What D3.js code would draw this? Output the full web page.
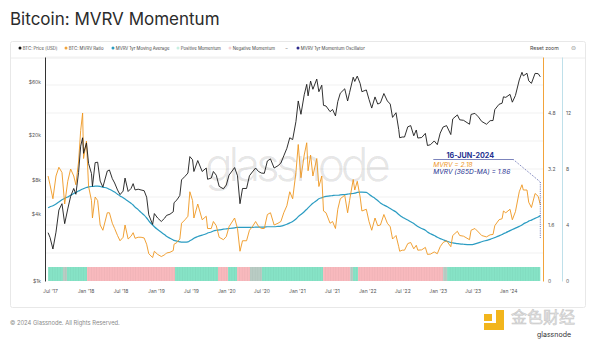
<!DOCTYPE html>
<html><head><meta charset="utf-8">
<script src="https://cdn.jsdelivr.net/npm/d3@7"></script>
<style>
body{margin:0;background:#fff;}
svg{display:block;font-family:Inter,"Noto Sans",sans-serif;}
</style>
</head><body>
<svg id="c" width="600" height="341"></svg>
<script>
// ---------- DATA ----------
const dates = [
 "2017-06-21","2017-07-01","2017-07-16","2017-08-01","2017-08-16","2017-09-01","2017-09-15","2017-10-01","2017-10-16","2017-11-01","2017-11-12","2017-11-26","2017-12-07","2017-12-17","2017-12-22",
 "2018-01-06","2018-01-17","2018-02-01","2018-02-06","2018-02-20","2018-03-05","2018-03-18","2018-04-01","2018-04-24","2018-05-05","2018-05-20","2018-06-01","2018-06-16","2018-06-29","2018-07-15","2018-07-25","2018-08-10","2018-08-25","2018-09-05","2018-09-15","2018-10-01","2018-10-16","2018-11-01","2018-11-14","2018-11-25","2018-12-15","2018-12-24",
 "2019-01-10","2019-01-29","2019-02-16","2019-02-25","2019-03-15","2019-04-01","2019-04-05","2019-04-20","2019-05-05","2019-05-14","2019-06-01","2019-06-16","2019-06-26","2019-07-10","2019-07-17","2019-08-06","2019-08-29","2019-09-19","2019-09-26","2019-10-15","2019-10-26","2019-11-10","2019-11-25","2019-12-17",
 "2020-01-01","2020-01-15","2020-02-13","2020-02-28","2020-03-12","2020-03-25","2020-04-15","2020-04-30","2020-05-15","2020-06-01","2020-06-16","2020-07-01","2020-07-16","2020-08-01","2020-08-17","2020-09-05","2020-09-25","2020-10-10","2020-10-25","2020-11-10","2020-11-25","2020-12-10","2020-12-27",
 "2021-01-08","2021-01-22","2021-02-08","2021-02-21","2021-02-28","2021-03-13","2021-03-25","2021-04-14","2021-04-25","2021-05-10","2021-05-19","2021-06-01","2021-06-22","2021-07-05","2021-07-20","2021-08-01","2021-08-14","2021-09-06","2021-09-21","2021-10-01","2021-10-20","2021-10-28","2021-11-10","2021-11-25","2021-12-04","2021-12-27",
 "2022-01-10","2022-01-24","2022-02-10","2022-02-24","2022-03-10","2022-03-28","2022-04-15","2022-04-30","2022-05-12","2022-05-30","2022-06-13","2022-06-18","2022-07-01","2022-07-13","2022-07-30","2022-08-14","2022-08-30","2022-09-12","2022-09-20","2022-10-10","2022-10-29","2022-11-09","2022-11-25","2022-12-14","2022-12-30",
 "2023-01-14","2023-01-29","2023-02-16","2023-03-10","2023-03-20","2023-04-13","2023-04-25","2023-05-15","2023-06-15","2023-06-23","2023-07-13","2023-07-31","2023-08-17","2023-09-11","2023-09-30","2023-10-15","2023-10-24","2023-11-15","2023-12-01","2023-12-08","2023-12-20",
 "2024-01-11","2024-01-23","2024-02-08","2024-02-28","2024-03-13","2024-03-20","2024-04-08","2024-04-17","2024-05-01","2024-05-20","2024-06-05","2024-06-16"
];
const price = [
 2700,2450,1930,2730,4300,4900,3250,4400,5700,6700,5950,9300,16000,19000,13800,
 17100,11200,9100,7000,11400,11500,7800,6900,9600,9800,8200,7500,6500,5900,6350,8300,6300,6700,7400,6500,6600,6500,6400,5600,3900,3200,4000,
 3650,3400,3650,3850,3950,4150,5000,5300,5800,8000,8600,9200,12900,12100,9500,11900,9500,10200,8100,8300,9500,8800,7000,6650,
 7200,8800,10300,8700,4900,6700,6700,8700,9400,10200,9500,9200,9150,11800,12300,10200,10700,11300,13100,15300,19000,18300,26500,
 40500,30800,46000,57000,45000,61000,51500,63500,49000,56000,37000,36500,32500,34000,29800,40000,47500,52000,40500,48000,66000,60500,67500,58000,49000,50800,
 41800,35000,44000,38000,39000,47200,40500,38000,28900,31800,22500,19000,19300,19300,23800,24400,19800,22300,18900,19100,20800,16200,16500,17800,16500,
 20900,23700,24400,20300,28000,30400,27500,27200,25100,30700,31400,29200,26600,25100,27000,27100,33900,37800,38700,44100,43600,
 46400,39500,45300,62400,73000,67800,71600,61300,58200,71400,71000,66600
];
const mvrv = [
 3.0,2.75,2.35,3.0,3.25,3.1,2.2,2.85,3.2,3.0,2.75,3.4,4.3,4.8,3.5,
 4.0,2.7,2.3,1.8,2.4,2.3,1.6,1.45,1.95,1.95,1.65,1.5,1.3,1.15,1.25,1.6,1.2,1.28,1.38,1.22,1.25,1.25,1.23,1.05,0.78,0.67,0.85,
 0.76,0.7,0.75,0.8,0.82,0.87,1.05,1.1,1.2,1.65,1.75,1.85,2.55,2.3,1.8,2.2,1.75,1.85,1.5,1.5,1.7,1.58,1.25,1.18,
 1.27,1.55,1.8,1.5,0.85,1.15,1.15,1.45,1.55,1.7,1.56,1.5,1.5,1.9,1.95,1.6,1.65,1.7,1.95,2.15,2.55,2.35,3.1,
 3.9,2.95,3.6,3.95,3.15,3.6,3.0,3.5,2.7,3.0,2.0,1.95,1.65,1.7,1.5,2.05,2.35,2.45,1.95,2.3,2.9,2.6,2.85,2.4,2.0,2.05,
 1.7,1.45,1.8,1.58,1.6,1.9,1.65,1.55,1.2,1.3,0.98,0.85,0.88,0.88,1.07,1.1,0.92,1.02,0.88,0.89,0.96,0.76,0.77,0.83,0.78,
 0.98,1.1,1.15,0.98,1.3,1.42,1.3,1.28,1.18,1.45,1.5,1.4,1.3,1.26,1.32,1.33,1.58,1.75,1.78,2.0,1.95,
 2.05,1.75,1.98,2.55,2.75,2.6,2.6,2.25,2.1,2.5,2.42,2.18
];
const mvrvMA = [
 2.09,2.12,2.15,2.2,2.26,2.32,2.36,2.4,2.45,2.5,2.53,2.57,2.6,2.63,2.64,
 2.67,2.69,2.7,2.7,2.71,2.71,2.7,2.68,2.65,2.62,2.58,2.54,2.48,2.43,2.38,2.34,2.28,2.22,2.17,2.11,2.04,1.96,1.88,1.8,1.72,1.6,1.55,
 1.47,1.39,1.32,1.28,1.22,1.17,1.16,1.14,1.12,1.11,1.11,1.12,1.15,1.19,1.22,1.27,1.31,1.35,1.37,1.4,1.43,1.45,1.46,1.48,
 1.49,1.5,1.52,1.53,1.53,1.53,1.53,1.53,1.53,1.54,1.54,1.54,1.54,1.55,1.55,1.55,1.56,1.57,1.59,1.62,1.66,1.7,1.77,
 1.84,1.9,1.98,2.05,2.09,2.16,2.22,2.3,2.35,2.38,2.4,2.42,2.43,2.44,2.45,2.45,2.46,2.47,2.48,2.49,2.5,2.51,2.53,2.54,2.54,2.53,
 2.48,2.42,2.36,2.3,2.23,2.17,2.12,2.07,2.03,1.97,1.9,1.88,1.83,1.79,1.74,1.69,1.64,1.59,1.56,1.5,1.45,1.4,1.35,1.3,1.25,
 1.21,1.18,1.14,1.1,1.09,1.07,1.06,1.05,1.04,1.04,1.06,1.09,1.12,1.16,1.19,1.22,1.24,1.29,1.33,1.35,1.38,
 1.44,1.47,1.51,1.56,1.6,1.63,1.68,1.71,1.74,1.79,1.83,1.86
];
// momentum periods (start, end, state)
const momentumStart = ["2017-06-21","2017-09-06","2017-09-27","2018-01-09","2019-04-10","2019-11-19","2020-01-10","2020-02-26","2020-05-03","2020-07-04","2021-05-17","2021-10-04","2021-10-19","2021-11-14","2023-01-29","2023-02-19"];
const momentumEnd   = ["2017-09-06","2017-09-27","2018-01-09","2019-04-10","2019-11-19","2020-01-10","2020-02-26","2020-05-03","2020-07-04","2021-05-17","2021-10-04","2021-10-19","2021-11-14","2023-01-29","2023-02-19","2024-06-16"];
const momentumState = ["pos","neutral","pos","neg","pos","neg","pos","neg","neutral","pos","neg","neutral","pos","neg","neutral","pos"];
const momentumLevel = 1;   // band height on oscillator axis

const priceTicks = [1000,4000,8000,20000,60000];
const mvrvTicks = [0,1.6,3.2,4.8];
const oscTicks = [0,4,8,12];
const legendLabels = ["BTC: Price [USD]","BTC: MVRV Ratio","MVRV 1yr Moving Average","Positive Momentum","Negative Momentum","","MVRV 1yr Momentum Oscillator"];
const legendColors = ["#111","#f2a33a","#2b9cc2","#c8efe2","#f7d3d5",null,"#2d2a8c"];
const annotDate = "16-JUN-2024";
const annotMVRV = 2.18, annotMA = 1.86;

// ---------- SETUP ----------
const parse = d3.timeParse("%Y-%m-%d");
const D = dates.map(parse);
const svg = d3.select("#c");
const L=45, R=543, T=57, B=281;
const x = d3.scaleTime().domain([new Date(2017,5,5), new Date(2024,5,30)]).range([L,R]);
const yP = d3.scaleLog().domain([1000,100000]).range([B,T]);
const yM = d3.scaleLinear().domain([0,6.4]).range([B,T]);
const yO = d3.scaleLinear().domain([0,16]).range([B,T]);

// stripe texture for momentum columns
const defs = svg.append("defs");
const pat = defs.append("pattern").attr("id","stripes").attr("patternUnits","userSpaceOnUse").attr("width",2.6).attr("height",10);
pat.append("rect").attr("x",0).attr("y",0).attr("width",0.45).attr("height",10).attr("fill","#000").attr("fill-opacity",0.06);

// title & card
svg.append("text").attr("x",10).attr("y",25).attr("font-size",17).attr("fill","#2b2b2b").text("Bitcoin: MVRV Momentum");
svg.append("rect").attr("x",10.5).attr("y",41.5).attr("width",575).attr("height",266).attr("rx",2)
  .attr("fill","#fff").attr("stroke","#e8e8e8");
svg.append("line").attr("x1",11).attr("x2",585).attr("y1",58).attr("y2",58).attr("stroke","#ececec");

// legend
const legX = [20,66,113,178,230,287,298];
const lg = svg.append("g").attr("font-size",4.3).attr("fill","#444");
legendLabels.forEach((t,i)=>{
  if(legendColors[i]){
    lg.append("circle").attr("cx",legX[i]).attr("cy",48).attr("r",1.5).attr("fill",legendColors[i]);
    lg.append("text").attr("x",legX[i]+2.8).attr("y",49.5).text(t);
  } else {
    lg.append("text").attr("x",legX[i]-1.5).attr("y",49.5).text("–");
  }
});
svg.append("text").attr("x",530).attr("y",50).attr("font-size",5.2).attr("fill","#444").text("Reset zoom");
svg.append("text").attr("x",571).attr("y",50).attr("font-size",6).attr("fill","#888").text("⊜");

// grid
const grid = svg.append("g");
d3.range(0.8,6.41,0.8).forEach(v=>{
  grid.append("line").attr("x1",L).attr("x2",R).attr("y1",yM(v)).attr("y2",yM(v)).attr("stroke","#eeeeee").attr("stroke-width",0.8);
});

// watermark
svg.append("text").attr("x",298).attr("y",181).attr("text-anchor","middle").attr("font-size",46)
  .attr("font-weight",300).attr("fill","#000").attr("fill-opacity",0.11).attr("textLength",186).text("glassnode");

// momentum bars
const mColor = {pos:"#86e3c6", neg:"#f8b9bd", neutral:"#b9ccc4"};
const mg = svg.append("g");
momentumState.forEach((s,i)=>{
  const x0 = x(parse(momentumStart[i])), x1 = x(parse(momentumEnd[i]));
  const y0 = yO(momentumLevel), h = yO(0)-yO(momentumLevel);
  mg.append("rect").attr("x",x0).attr("width",Math.max(0,x1-x0)).attr("y",y0).attr("height",h).attr("fill",mColor[s]);
  mg.append("rect").attr("x",x0).attr("width",Math.max(0,x1-x0)).attr("y",y0).attr("height",h).attr("fill","url(#stripes)");
});

// lines
const lineMA = d3.line().x((d,i)=>x(D[i])).y(d=>yM(d)).curve(d3.curveMonotoneX);
const lineMV = d3.line().x((d,i)=>x(D[i])).y(d=>yM(d));
const lineP = d3.line().x((d,i)=>x(D[i])).y(d=>yP(d));
svg.append("path").attr("d",lineMA(mvrvMA)).attr("fill","none").attr("stroke","#2b9cc2").attr("stroke-width",1.2);
svg.append("path").attr("d",lineMV(mvrv)).attr("fill","none").attr("stroke","#ee961f").attr("stroke-width",0.9);
svg.append("path").attr("d",lineP(price)).attr("fill","none").attr("stroke","#1a1a1a").attr("stroke-width",0.9);

// axes
const axL = svg.append("g").attr("transform",`translate(${L},0)`)
  .call(d3.axisLeft(yP).tickValues(priceTicks).tickFormat(d=>"$"+(d/1000)+"k").tickSize(0).tickPadding(4));
const axR1 = svg.append("g").attr("transform",`translate(${R},0)`)
  .call(d3.axisRight(yM).tickValues(mvrvTicks).tickFormat(d=>d===0?"0":d.toFixed(1)).tickSize(0).tickPadding(5));
const axR2 = svg.append("g").attr("transform",`translate(562,0)`)
  .call(d3.axisRight(yO).tickValues(oscTicks).tickFormat(d3.format("d")).tickSize(0).tickPadding(4));
const axB = svg.append("g").attr("transform",`translate(0,${B})`)
  .call(d3.axisBottom(x).ticks(d3.timeMonth.every(6)).tickFormat(d3.timeFormat("%b '%y")).tickSize(0).tickPadding(8));
[axL,axR1,axR2,axB].forEach(a=>{a.selectAll("text").attr("font-size",5).attr("fill","#555").attr("font-family","Inter,sans-serif");});
axB.select(".domain").remove();
axL.select(".domain").attr("stroke","#333").attr("stroke-width",1);
axR1.select(".domain").attr("stroke","#f2a33a").attr("stroke-width",1);
axR2.select(".domain").attr("stroke","#bfe0ea").attr("stroke-width",1);

// annotation
const ex = x(D[D.length-1]);
const navy = "#24308f";
const ag = svg.append("g");
ag.append("text").attr("x",ex-70).attr("y",158).attr("text-anchor","middle").attr("font-size",7.2).attr("font-weight",700).attr("fill",navy).text(annotDate);
ag.append("line").attr("x1",ex-107).attr("x2",ex-27).attr("y1",159.5).attr("y2",159.5).attr("stroke",navy).attr("stroke-width",0.6);
ag.append("path").attr("d",`M${ex-27},159.5 L${ex},${yM(2.83)} L${ex},${yM(1.23)}`).attr("fill","none")
  .attr("stroke",navy).attr("stroke-width",0.7).attr("stroke-dasharray","1,1.2");
ag.append("text").attr("x",ex-107).attr("y",166.5).attr("font-size",6.6).attr("font-style","italic").attr("fill","#ee961f").text(`MVRV = ${annotMVRV.toFixed(2)}`);
ag.append("text").attr("x",ex-107).attr("y",173.5).attr("font-size",6.6).attr("font-style","italic").attr("fill",navy).text(`MVRV (365D-MA) = ${annotMA.toFixed(2)}`);

// footer
svg.append("text").attr("x",10).attr("y",325).attr("font-size",5.8).attr("fill","#8a8a8a").text("© 2024 Glassnode. All Rights Reserved.");
// bottom-right repost watermark
const wm = svg.append("g");
wm.append("path").attr("d","M496,310 h8 v20 h-20 v-7 h12 z").attr("fill","#f2b51c");
wm.append("rect").attr("x",484).attr("y",314).attr("width",8).attr("height",7).attr("fill","#f2b51c");
wm.append("text").attr("x",511).attr("y",323).attr("font-size",16).attr("font-family","'Noto Sans CJK SC',sans-serif")
  .attr("fill","#e4e4e4").attr("stroke","#c4c4c4").attr("stroke-width",0.5).text("金色财经");
wm.append("text").attr("x",537).attr("y",337).attr("font-size",7).attr("fill","#333").text("glassnode");
</script>
</body></html>
